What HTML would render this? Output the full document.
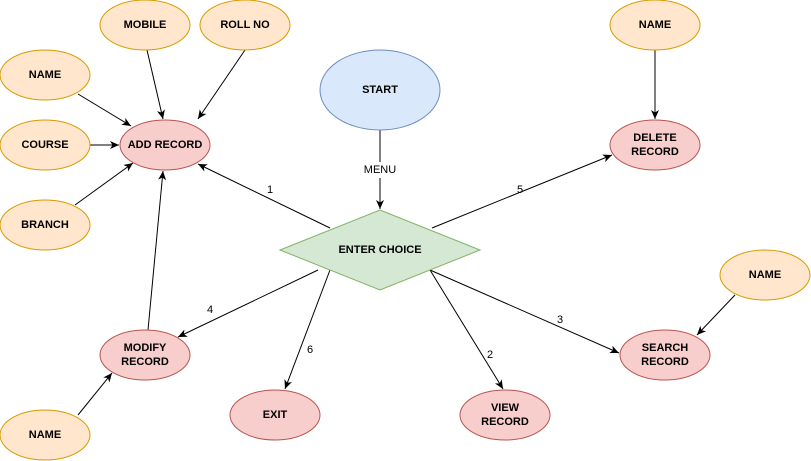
<!DOCTYPE html>
<html><head><meta charset="utf-8"><style>
html,body{margin:0;padding:0;background:#fff;}
svg{display:block;}
text{font-family:"Liberation Sans",Helvetica,Arial,sans-serif;font-size:11px;font-weight:bold;fill:#000;text-anchor:middle;dominant-baseline:central;}
.lbl{font-weight:normal;font-size:11px;}
.o{fill:#ffe6cc;stroke:#d79b00;stroke-width:1;}
.p{fill:#f8cecc;stroke:#b85450;stroke-width:1;}
line{stroke:#000;stroke-width:1;marker-end:url(#a);}
</style></head><body>
<svg width="811" height="461" viewBox="0 0 811 461" xmlns="http://www.w3.org/2000/svg">
<defs><marker id="a" markerWidth="10" markerHeight="10" refX="9" refY="5" orient="auto" markerUnits="userSpaceOnUse"><path d="M0,1 L9,5 L0,9 L2.5,5 Z" fill="#000"/></marker></defs>
<!-- edges -->
<line x1="147" y1="50" x2="163" y2="119"/>
<line x1="245" y1="50" x2="198" y2="119"/>
<line x1="78" y1="94" x2="131" y2="126"/>
<line x1="90" y1="145" x2="119" y2="145"/>
<line x1="75" y1="205" x2="133" y2="163"/>
<line x1="380" y1="130" x2="380" y2="209"/>
<line x1="330" y1="228" x2="198" y2="164"/>
<line x1="432" y1="228" x2="612" y2="155"/>
<line x1="430" y1="270" x2="619" y2="353"/>
<line x1="430" y1="270" x2="503" y2="389"/>
<line x1="330" y1="270" x2="285" y2="389"/>
<line x1="318" y1="270" x2="178" y2="337"/>
<line x1="148" y1="330" x2="163" y2="171"/>
<line x1="78" y1="415" x2="112" y2="373"/>
<line x1="735" y1="295" x2="697" y2="335"/>
<line x1="655" y1="50" x2="655" y2="119"/>
<!-- nodes -->
<ellipse class="o" cx="145" cy="25" rx="45" ry="25"/><text x="145" y="25">MOBILE</text>
<ellipse class="o" cx="245" cy="25" rx="45" ry="25"/><text x="245" y="25">ROLL NO</text>
<ellipse class="o" cx="45" cy="75" rx="45" ry="25"/><text x="45" y="75">NAME</text>
<ellipse class="o" cx="45" cy="145" rx="45" ry="25"/><text x="45" y="145">COURSE</text>
<ellipse class="o" cx="45" cy="225" rx="45" ry="25"/><text x="45" y="225">BRANCH</text>
<ellipse class="p" cx="165" cy="145" rx="45" ry="25"/><text x="165" y="145">ADD RECORD</text>
<ellipse cx="380" cy="90" rx="60" ry="40" fill="#dae8fc" stroke="#6c8ebf"/><text x="380" y="90">START</text>
<polygon points="280,250 380,210 480,250 380,290" fill="#d5e8d4" stroke="#82b366"/><text x="380" y="250">ENTER CHOICE</text>
<ellipse class="o" cx="655" cy="25" rx="45" ry="25"/><text x="655" y="25">NAME</text>
<ellipse class="p" cx="655" cy="145" rx="45" ry="25"/><text x="655" y="138">DELETE</text><text x="655" y="152">RECORD</text>
<ellipse class="o" cx="765" cy="275" rx="45" ry="25"/><text x="765" y="275">NAME</text>
<ellipse class="p" cx="665" cy="355" rx="45" ry="25"/><text x="665" y="348">SEARCH</text><text x="665" y="362">RECORD</text>
<ellipse class="p" cx="505" cy="415" rx="45" ry="25"/><text x="505" y="408">VIEW</text><text x="505" y="422">RECORD</text>
<ellipse class="p" cx="275" cy="415" rx="45" ry="25"/><text x="275" y="415">EXIT</text>
<ellipse class="p" cx="145" cy="355" rx="45" ry="25"/><text x="145" y="348">MODIFY</text><text x="145" y="362">RECORD</text>
<ellipse class="o" cx="45" cy="435" rx="45" ry="25"/><text x="45" y="435">NAME</text>
<!-- labels -->
<rect x="360" y="162" width="40" height="16" fill="#fff"/><text class="lbl" x="380" y="170">MENU</text>
<text class="lbl" x="270" y="190">1</text>
<text class="lbl" x="520" y="190">5</text>
<text class="lbl" x="560" y="320">3</text>
<text class="lbl" x="490" y="355">2</text>
<text class="lbl" x="310" y="350">6</text>
<text class="lbl" x="210" y="310">4</text>
</svg>
</body></html>
